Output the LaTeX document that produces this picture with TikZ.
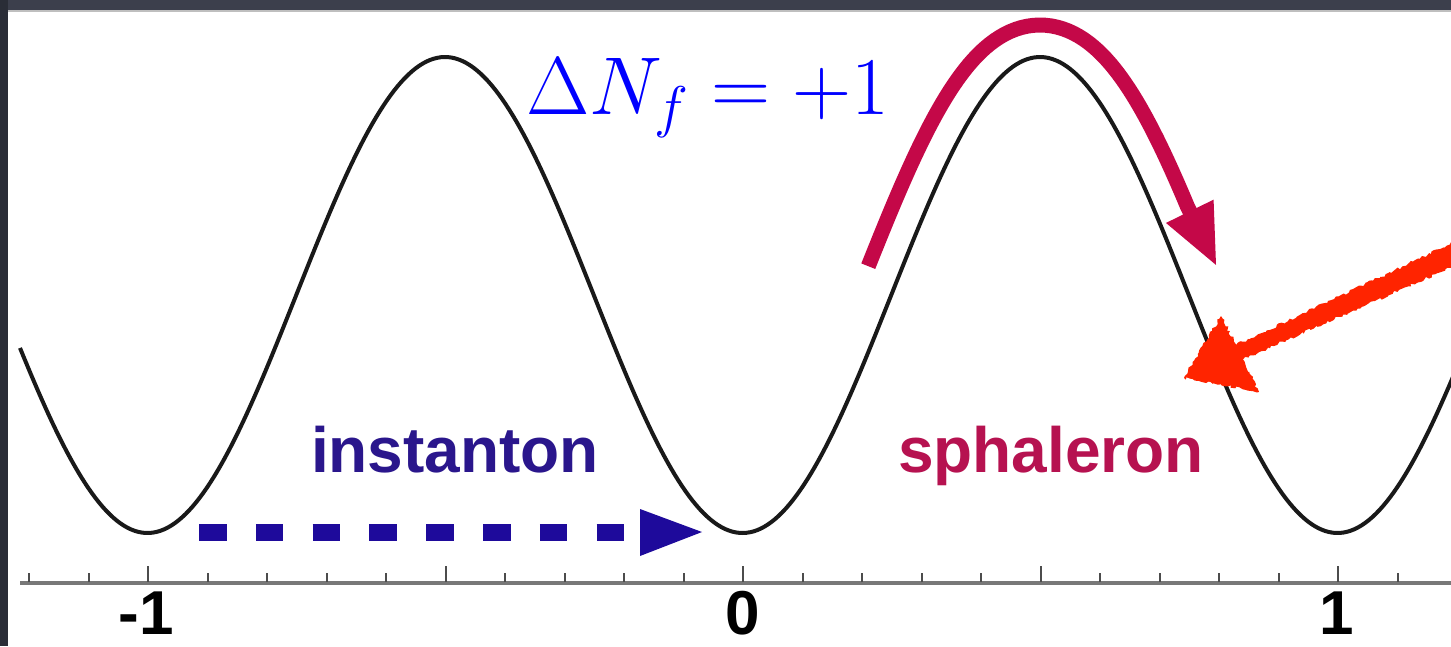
\documentclass[tikz,border=0pt]{standalone}
\usepackage{fix-cm}
\usepackage{fontspec}
\newfontfamily\lsans{Liberation Sans}
\usetikzlibrary{arrows.meta,decorations.pathmorphing}
\definecolor{frameT}{RGB}{60,63,76}
\definecolor{frameL}{RGB}{42,45,55}
\definecolor{instc}{RGB}{42,22,140}
\definecolor{dashc}{RGB}{30,10,155}
\definecolor{sphc}{RGB}{182,18,80}
\definecolor{arcc}{RGB}{196,8,72}
\definecolor{handc}{RGB}{255,36,0}
\definecolor{axisc}{RGB}{120,120,120}
\tikzset{
  curve/.style={line width=4pt,black!90},
  lbl/.style={font=\lsans\bfseries\fontsize{64}{70}\selectfont,inner sep=0pt},
  numlbl/.style={font=\lsans\bfseries\fontsize{62}{64}\selectfont,inner sep=0pt,anchor=base},
  tickmark/.style={line width=2pt,black!70},
  axisline/.style={line width=3.5pt,axisc},
  sph/.style={line width=15pt,arcc},
  declare function={ph(\t)=(\t-1040)/595*360; ss(\t)=2.513*sin(ph(\t)); cy(\t)=295-238*cos(ph(\t));}
}
\begin{document}
\begin{tikzpicture}[x=1pt,y=-1pt]
\useasboundingbox (0,0) rectangle (1451,646);
\fill[frameT] (0,0) rectangle (1451,646);
\fill[frameL] (0,0) rectangle (8,646);
\fill[white] (8,10) rectangle (1451,646);
\fill[black!25] (8,10) rectangle (1451,12);
\begin{scope}
\clip (8,12) rectangle (1451,646);
% axis
\coordinate (axL) at (20,583);
\coordinate (axR) at (1451,583);
\draw[axisline] (axL) -- (axR);
\foreach \k in {-2,...,21}{
  \pgfmathsetmacro{\xx}{148+59.5*\k}
  \pgfmathtruncatemacro{\mm}{mod(\k+100,5)}
  \ifnum\mm=0
    \draw[tickmark] (\xx,582) -- (\xx,566);
  \else
    \draw[tickmark] (\xx,582) -- (\xx,573);
  \fi
}
\end{scope}
\node[numlbl] (lm1) at (146,634) {-1};
\node[numlbl] (l0) at (743,634) {0};
\node[numlbl] (l1) at (1337,634) {1};
\begin{scope}
\clip (8,12) rectangle (1451,646);
% potential
\draw[curve] plot[domain=20:1455,samples=400] (\x,{cy(\x)});
% labels
\node[lbl,text=instc,anchor=base] (inst) at (455,472) {instanton};
\node[lbl,text=sphc,anchor=base] (sphal) at (1051,472) {sphaleron};
\node[text=blue,anchor=base,inner sep=0pt,font=\fontsize{82}{86}\selectfont] (dn) at (708,114) {$\Delta N_f=+1$};
% instanton arrow
\coordinate (iS) at (199,532);
\coordinate (iE) at (625,532);
\coordinate (hA) at (640,509);
\coordinate (hT) at (702,532);
\coordinate (hB) at (640,556);
\draw[dashc,line width=17pt,dash pattern=on 27.5pt off 29.3pt] (iS) -- (iE);
\fill[dashc] (hA) -- (hT) -- (hB) -- cycle;
% sphaleron arrow
\coordinate (sT) at (1217,267);
\draw[sph,-{Triangle[length=62pt,width=48pt]}]
  plot[variable=\t,domain=898:1158,samples=80] ({\t+32*ss(\t)/sqrt(1+ss(\t)^2)},{cy(\t)-32/sqrt(1+ss(\t)^2)}) -- (sT);
% hand-drawn arrow
\pgfmathsetseed{7}
\coordinate (rT) at (1184,378);
\coordinate (rA) at (1221,316);
\coordinate (rB) at (1236.3,344.8);
\coordinate (rC) at (1455.5,241.5);
\coordinate (rD) at (1464.5,261.5);
\coordinate (rE) at (1242.9,359.4);
\coordinate (rF) at (1259,392);
\fill[handc,decorate,decoration={random steps,segment length=2.5pt,amplitude=1.5pt}]
  (rT) -- (rA) -- (rB) -- (rC) -- (rD) -- (rE) -- (rF) -- cycle;
\end{scope}
\end{tikzpicture}
\end{document}
